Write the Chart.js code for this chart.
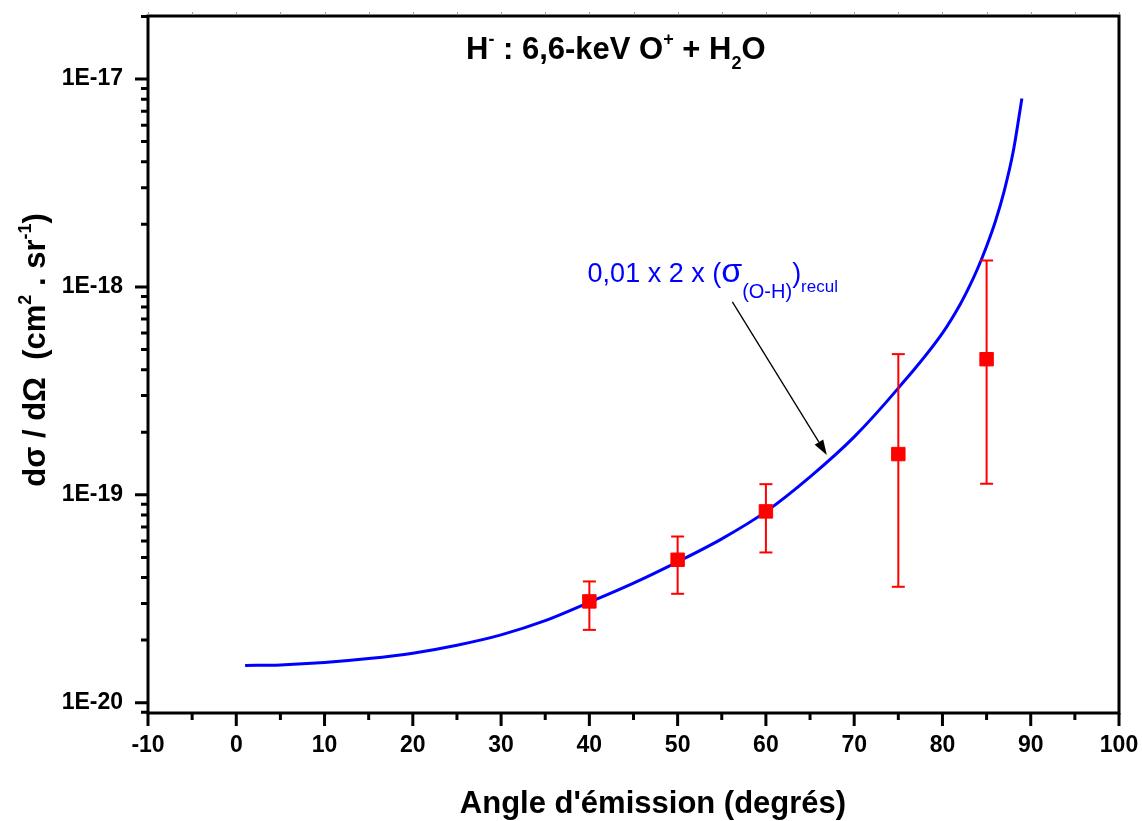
<!DOCTYPE html>
<html>
<head>
<meta charset="utf-8">
<title>H- : 6,6-keV O+ + H2O</title>
<script src="https://cdn.jsdelivr.net/npm/chart.js@4.4.1/dist/chart.umd.min.js"></script>
<style>
    html, body { margin: 0; padding: 0; background: #fff; }
    #wrap { width: 1142px; height: 821px; }
</style>
</head>
<body>
<div id="wrap"><canvas id="xsChart" width="1142" height="821"></canvas></div>
<script>
// curve 0,01 x 2 x (sigma(O-H))recul
const curveAngles = [1, 5, 10, 15, 20, 25, 30, 35, 40, 45, 50, 55, 60, 65, 70, 75, 80, 82, 83, 84, 85, 86, 87, 88, 89];
const curveValues = [1.51e-20, 1.52e-20, 1.56e-20, 1.63e-20, 1.73e-20, 1.89e-20, 2.12e-20, 2.48e-20, 3.04e-20, 3.76e-20,
    4.76e-20, 6.14e-20, 8.3e-20, 1.22e-19, 1.9e-19, 3.26e-19, 6.0e-19, 8.24e-19, 9.95e-19, 1.23e-18,
    1.57e-18, 2.07e-18, 2.9e-18, 4.44e-18, 8.07e-18];

// measured H- cross sections with error bars
const expAngles = [40, 50, 60, 75, 85];
const expValues = [3.07e-20, 4.87e-20, 8.32e-20, 1.57e-19, 4.49e-19];
const expHigh = [3.83e-20, 6.30e-20, 1.125e-19, 4.75e-19, 1.34e-18];
const expLow = [2.24e-20, 3.34e-20, 5.28e-20, 3.61e-20, 1.13e-19];

// axes
const xMin = -10, xMax = 100;
const yMin = 8.92e-21, yMax = 2.01e-17;
const xMajorTicks = [-10, 0, 10, 20, 30, 40, 50, 60, 70, 80, 90, 100];
const xMinorTicks = [-5, 5, 15, 25, 35, 45, 55, 65, 75, 85, 95];
const yMajorTicks = [1e-20, 1e-19, 1e-18, 1e-17];
const yTickLabels = ['1E-20', '1E-19', '1E-18', '1E-17'];
const yMinorSteps = [2, 3, 4, 5, 6, 7, 8, 9];

// annotation (data coordinates)
const annotText = { x: 39.8, y: 1.057e-18 };
const arrowFrom = { x: 56.2, y: 8.47e-19 };
const arrowTo = { x: 66.9, y: 1.556e-19 };

const blue = '#0000ff';
const red = '#ff0000';
const fontFamily = '"Liberation Sans", Arial, sans-serif';

function majorIndex(v) {
    for (var i = 0; i < yMajorTicks.length; i++) {
        if (Math.abs(v - yMajorTicks[i]) / yMajorTicks[i] < 1e-6) return i;
    }
    return -1;
}

function drawRich(ctx, parts, x, y) {
    parts.forEach(function (p) {
        ctx.font = p.font;
        ctx.fillText(p.text, x, y + (p.dy || 0));
        x += ctx.measureText(p.text).width;
    });
    return x;
}

function richWidth(ctx, parts) {
    var w = 0;
    parts.forEach(function (p) {
        ctx.font = p.font;
        w += ctx.measureText(p.text).width;
    });
    return w;
}

function noPadding(scale) {
    scale.paddingLeft = 0;
    scale.paddingRight = 0;
    scale.paddingTop = 0;
    scale.paddingBottom = 0;
}

const curveData = curveAngles.map(function (a, i) { return { x: a, y: curveValues[i] }; });
const pointData = expAngles.map(function (a, i) { return { x: a, y: expValues[i] }; });
const capData = [];
const stemData = [];
expAngles.forEach(function (a, i) {
    capData.push({ x: a, y: expHigh[i] });
    capData.push({ x: a, y: expLow[i] });
    stemData.push({ x: a, y: expLow[i] });
    stemData.push({ x: a, y: expHigh[i] });
    stemData.push({ x: a, y: null });
});

const decorPlugin = {
    id: 'decor',
    afterDraw: function (chart) {
        const ctx = chart.ctx;
        const a = chart.chartArea;
        const xs = chart.scales.x;
        const ys = chart.scales.y;
        ctx.save();

        // frame and tick marks
        ctx.strokeStyle = '#000';
        ctx.lineWidth = 3;
        ctx.strokeRect(a.left, a.top, a.right - a.left, a.bottom - a.top);
        ctx.beginPath();
        xs.ticks.forEach(function (t) {
            var px = xs.getPixelForValue(t.value);
            ctx.moveTo(px, a.bottom);
            ctx.lineTo(px, a.bottom + (t.major ? 13 : 7));
        });
        ys.ticks.forEach(function (t) {
            var py = ys.getPixelForValue(t.value);
            ctx.moveTo(a.left, py);
            ctx.lineTo(a.left - (t.major ? 13 : 7), py);
        });
        ctx.stroke();

        // faint ticks on the top edge
        ctx.strokeStyle = '#a0a0a0';
        ctx.lineWidth = 1;
        ctx.beginPath();
        xs.ticks.forEach(function (t) {
            var px = Math.round(xs.getPixelForValue(t.value)) + 0.5;
            ctx.moveTo(px, a.top - 1.5);
            ctx.lineTo(px, a.top - 4);
        });
        ctx.stroke();

        ctx.fillStyle = '#000';
        ctx.textBaseline = 'alphabetic';
        ctx.textAlign = 'left';

        // title
        const b31t = 'bold 31px ' + fontFamily;
        const b18 = 'bold 18px ' + fontFamily;
        drawRich(ctx, [
            { text: 'H', font: b31t },
            { text: '-', font: b18, dy: -14 },
            { text: ' : 6,6-keV O', font: b31t },
            { text: '+', font: b18, dy: -14 },
            { text: ' + H', font: b31t },
            { text: '2', font: b18, dy: 10 },
            { text: 'O', font: b31t }
        ], 466, 59);

        // x axis title
        ctx.font = 'bold 31px ' + fontFamily;
        ctx.textAlign = 'center';
        ctx.fillText("Angle d'émission (degrés)", 653, 813);
        ctx.textAlign = 'left';

        // y axis title
        const b31 = 'bold 31px ' + fontFamily;
        const yParts = [
            { text: 'dσ / dΩ  (cm', font: b31 },
            { text: '2', font: b18, dy: -14 },
            { text: ' . sr', font: b31 },
            { text: '-1', font: b18, dy: -14 },
            { text: ')', font: b31 }
        ];
        const yw = richWidth(ctx, yParts);
        ctx.save();
        ctx.translate(45, 350 + yw / 2);
        ctx.rotate(-Math.PI / 2);
        drawRich(ctx, yParts, 0, 0);
        ctx.restore();

        // curve label
        ctx.fillStyle = blue;
        drawRich(ctx, [
            { text: '0,01 x 2 x (', font: '27px ' + fontFamily },
            { text: 'σ', font: '34px ' + fontFamily },
            { text: '(O-H)', font: '20px ' + fontFamily, dy: 16 },
            { text: ')', font: '27px ' + fontFamily },
            { text: 'recul', font: '17px ' + fontFamily, dy: 10 }
        ], xs.getPixelForValue(annotText.x), ys.getPixelForValue(annotText.y));

        // arrow
        const x0 = xs.getPixelForValue(arrowFrom.x), y0 = ys.getPixelForValue(arrowFrom.y);
        const x1 = xs.getPixelForValue(arrowTo.x), y1 = ys.getPixelForValue(arrowTo.y);
        const ang = Math.atan2(y1 - y0, x1 - x0);
        const hl = 15, hw = 5;
        ctx.strokeStyle = '#000';
        ctx.lineWidth = 1.3;
        ctx.beginPath();
        ctx.moveTo(x0, y0);
        ctx.lineTo(x1 - hl * Math.cos(ang), y1 - hl * Math.sin(ang));
        ctx.stroke();
        ctx.fillStyle = '#000';
        ctx.beginPath();
        ctx.moveTo(x1, y1);
        ctx.lineTo(x1 - hl * Math.cos(ang) + hw * Math.sin(ang), y1 - hl * Math.sin(ang) - hw * Math.cos(ang));
        ctx.lineTo(x1 - hl * Math.cos(ang) - hw * Math.sin(ang), y1 - hl * Math.sin(ang) + hw * Math.cos(ang));
        ctx.closePath();
        ctx.fill();

        ctx.restore();
    }
};

new Chart(document.getElementById('xsChart'), {
    type: 'scatter',
    data: {
        datasets: [{
            label: 'H-',
            data: pointData,
            pointStyle: 'rect',
            pointRadius: 9.5,
            pointHoverRadius: 9.5,
            backgroundColor: red,
            borderColor: red,
            borderWidth: 1,
            order: 0
        }, {
            label: 'caps',
            data: capData,
            pointStyle: 'line',
            pointRadius: 6.5,
            pointHoverRadius: 6.5,
            borderColor: red,
            borderWidth: 2,
            order: 1
        }, {
            label: 'stems',
            data: stemData,
            showLine: true,
            spanGaps: false,
            pointRadius: 0,
            borderColor: red,
            borderWidth: 2,
            order: 2
        }, {
            label: 'recul',
            data: curveData,
            showLine: true,
            cubicInterpolationMode: 'monotone',
            pointRadius: 0,
            borderColor: blue,
            borderWidth: 3,
            order: 3
        }]
    },
    options: {
        responsive: false,
        animation: false,
        devicePixelRatio: 1,
        layout: {
            padding: { top: 16, right: 23, bottom: 0, left: 0 }
        },
        plugins: {
            legend: { display: false },
            tooltip: { enabled: false },
            title: { display: false }
        },
        scales: {
            x: {
                type: 'linear',
                min: xMin,
                max: xMax,
                bounds: 'data',
                grid: { display: false, drawTicks: false },
                border: { display: false },
                afterBuildTicks: function (scale) {
                    var t = [];
                    xMajorTicks.forEach(function (v) { t.push({ value: v, major: true }); });
                    xMinorTicks.forEach(function (v) { t.push({ value: v, major: false }); });
                    t.sort(function (p, q) { return p.value - q.value; });
                    scale.ticks = t;
                },
                afterFit: function (scale) { scale.height = 108; noPadding(scale); },
                ticks: {
                    autoSkip: false,
                    maxRotation: 0,
                    padding: 19,
                    color: '#000',
                    font: { family: fontFamily, size: 23, weight: 'bold' },
                    callback: function (value) {
                        return xMajorTicks.indexOf(value) >= 0 ? String(value) : '';
                    }
                }
            },
            y: {
                type: 'logarithmic',
                min: yMin,
                max: yMax,
                bounds: 'data',
                grid: { display: false, drawTicks: false },
                border: { display: false },
                afterBuildTicks: function (scale) {
                    var t = [];
                    yMajorTicks.forEach(function (m) {
                        t.push({ value: m, major: true });
                        yMinorSteps.forEach(function (k) {
                            t.push({ value: m * k, major: false });
                        });
                        t.push({ value: m * 0.9, major: false });
                    });
                    t = t.filter(function (p) { return p.value >= yMin && p.value <= yMax; });
                    t.sort(function (p, q) { return p.value - q.value; });
                    scale.ticks = t;
                },
                afterFit: function (scale) { scale.width = 148; noPadding(scale); },
                ticks: {
                    autoSkip: false,
                    padding: 25,
                    color: '#000',
                    font: { family: fontFamily, size: 23, weight: 'bold' },
                    callback: function (value) {
                        var i = majorIndex(value);
                        return i >= 0 ? yTickLabels[i] : '';
                    }
                }
            }
        }
    },
    plugins: [decorPlugin]
});
</script>
</body>
</html>
